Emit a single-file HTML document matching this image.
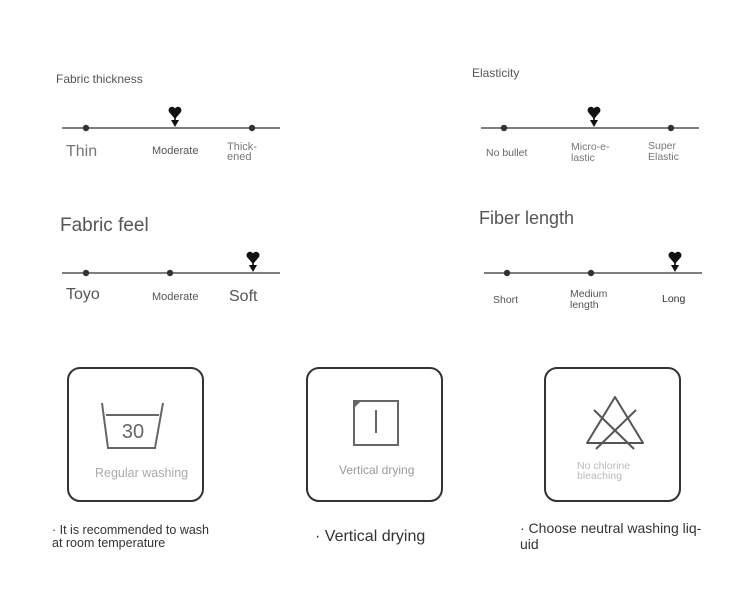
<!DOCTYPE html>
<html><head><meta charset="utf-8"><style>
html,body{margin:0;padding:0;background:#fff;}
svg{display:block;font-family:"Liberation Sans",sans-serif;}
</style></head><body>
<svg width="750" height="602" viewBox="0 0 750 602" xmlns="http://www.w3.org/2000/svg">
<defs>
<g id="hm">
<path d="M0,-9 L-6,-16 A3.2,3.2 0 0 1 0,-19.5 A3.2,3.2 0 0 1 6,-16 Z" fill="#111"/>
<path d="M-4,-8 L4,-8 L0,-1 Z" fill="#111"/>
<rect x="-0.8" y="-11" width="1.6" height="4" fill="#111"/>
</g>
</defs>
<rect width="750" height="602" fill="#fff"/>

<!-- Scale 1 -->
<text x="56" y="83" font-size="12" fill="#555">Fabric thickness</text>
<line x1="62" y1="128" x2="280" y2="128" stroke="#555" stroke-width="1.5"/>
<circle cx="86" cy="128" r="3.2" fill="#333"/><circle cx="252" cy="128" r="3.2" fill="#333"/>
<use href="#hm" x="175" y="128"/>
<text x="66" y="156" font-size="16" fill="#777">Thin</text>
<text x="152" y="154" font-size="11" fill="#555">Moderate</text>
<text x="227" y="150" font-size="11" fill="#777">Thick-</text>
<text x="227" y="160" font-size="11" fill="#777">ened</text>

<!-- Scale 2 -->
<text x="472" y="77" font-size="12" fill="#555">Elasticity</text>
<line x1="481" y1="128" x2="699" y2="128" stroke="#555" stroke-width="1.5"/>
<circle cx="504" cy="128" r="3.2" fill="#333"/><circle cx="671" cy="128" r="3.2" fill="#333"/>
<use href="#hm" x="594" y="128"/>
<text x="486" y="156" font-size="10.5" fill="#666">No bullet</text>
<text x="571" y="150" font-size="10.5" fill="#777">Micro-e-</text>
<text x="571" y="161" font-size="10.5" fill="#777">lastic</text>
<text x="648" y="149" font-size="10.5" fill="#777">Super</text>
<text x="648" y="160" font-size="10.5" fill="#777">Elastic</text>

<!-- Scale 3 -->
<text x="60" y="231" font-size="19" fill="#555">Fabric feel</text>
<line x1="62" y1="273" x2="280" y2="273" stroke="#555" stroke-width="1.5"/>
<circle cx="86" cy="273" r="3.2" fill="#333"/><circle cx="170" cy="273" r="3.2" fill="#333"/>
<use href="#hm" x="253" y="273"/>
<text x="66" y="299" font-size="16" fill="#555">Toyo</text>
<text x="152" y="300" font-size="11" fill="#555">Moderate</text>
<text x="229" y="301" font-size="16" fill="#555">Soft</text>

<!-- Scale 4 -->
<text x="479" y="224" font-size="18" fill="#555">Fiber length</text>
<line x1="484" y1="273" x2="702" y2="273" stroke="#555" stroke-width="1.5"/>
<circle cx="507" cy="273" r="3.2" fill="#333"/><circle cx="591" cy="273" r="3.2" fill="#333"/>
<use href="#hm" x="675" y="273"/>
<text x="493" y="303" font-size="10.5" fill="#555">Short</text>
<text x="570" y="297" font-size="10.5" fill="#555">Medium</text>
<text x="570" y="308" font-size="10.5" fill="#555">length</text>
<text x="662" y="302" font-size="10.5" fill="#333">Long</text>

<!-- Boxes -->
<rect x="68" y="368" width="135" height="133" rx="12" fill="none" stroke="#333" stroke-width="2"/>
<rect x="307" y="368" width="135" height="133" rx="12" fill="none" stroke="#333" stroke-width="2"/>
<rect x="545" y="368" width="135" height="133" rx="12" fill="none" stroke="#333" stroke-width="2"/>

<!-- wash icon -->
<path d="M102,403 L108,448 L155,448 L163,403 M106,415 L159,415" fill="none" stroke="#666" stroke-width="2"/>
<text x="133" y="438" font-size="20" fill="#666" text-anchor="middle">30</text>
<text x="95" y="477" font-size="12.5" fill="#aaa">Regular washing</text>

<!-- dry icon -->
<rect x="354" y="401" width="44" height="44" fill="none" stroke="#666" stroke-width="2"/>
<path d="M354,401 L361,401 L354,408 Z" fill="#666"/>
<line x1="376" y1="410" x2="376" y2="433" stroke="#666" stroke-width="2"/>
<text x="339" y="474" font-size="12" fill="#999">Vertical drying</text>

<!-- no bleach icon -->
<path d="M615,397 L643,443 L587,443 Z" fill="none" stroke="#555" stroke-width="2" stroke-linejoin="round"/>
<line x1="594" y1="410" x2="634" y2="449" stroke="#555" stroke-width="2"/>
<line x1="636" y1="410" x2="596" y2="449" stroke="#555" stroke-width="2"/>
<text x="577" y="469" font-size="10.5" fill="#bbb">No chlorine</text>
<text x="577" y="479" font-size="10.5" fill="#bbb">bleaching</text>

<!-- bottom notes -->
<text x="52" y="534" font-size="12.5" fill="#333">· It is recommended to wash</text>
<text x="52" y="547" font-size="12.5" fill="#333">at room temperature</text>
<text x="315" y="541" font-size="16" fill="#333">· Vertical drying</text>
<text x="520" y="533" font-size="14" fill="#333">· Choose neutral washing liq-</text>
<text x="520" y="549" font-size="14" fill="#333">uid</text>
</svg>
</body></html>
